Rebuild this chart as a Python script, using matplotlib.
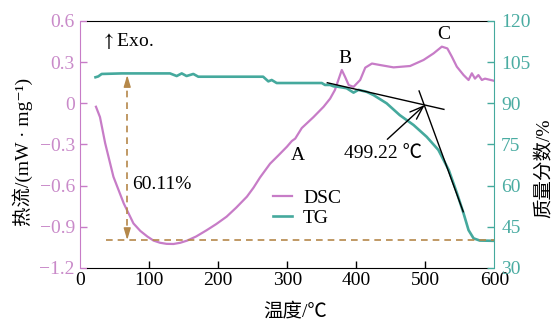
import numpy as np
import matplotlib
matplotlib.use("Agg")
import matplotlib.pyplot as plt

plt.rcParams["font.family"] = ["Liberation Serif", "Noto Sans CJK SC", "DejaVu Serif"]
plt.rcParams["mathtext.fontset"] = "stix"
plt.rcParams["font.size"] = 14

# DSC heat flow (mW/mg) vs temperature
dsc_t = [22.7, 28.5, 36, 48, 63, 77, 87, 97, 106, 115.5, 125, 135, 145, 155, 168,
         183, 197, 212, 226, 241.5, 251, 260.5, 275, 287, 299.5, 306.5, 311.5, 321,
         338, 352.6, 362, 369, 374, 379, 384, 389, 396, 405.6, 413, 422.7, 434.6,
         454, 478, 497.5, 512, 524, 532, 538.5, 545.7, 555.5, 562.7, 567.5, 572,
         577, 582, 586.5, 599]
dsc_v = [-0.025, -0.10, -0.29, -0.535, -0.73, -0.875, -0.93, -0.97, -1.0, -1.016,
         -1.024, -1.025, -1.016, -1.0, -0.97, -0.925, -0.88, -0.826, -0.76, -0.68,
         -0.615, -0.54, -0.44, -0.38, -0.316, -0.275, -0.257, -0.18, -0.10, -0.025,
         0.034, 0.097, 0.17, 0.243, 0.19, 0.133, 0.12, 0.17, 0.26, 0.29, 0.279,
         0.262, 0.272, 0.316, 0.364, 0.413, 0.40, 0.34, 0.267, 0.206, 0.17, 0.219,
         0.18, 0.206, 0.17, 0.18, 0.165]

# TG mass fraction (%) vs temperature
tg_t = [22, 26, 31, 60, 130, 139.7, 147, 154, 163.8, 171, 220, 265, 272.5, 277.4,
        284.6, 300, 350, 354.6, 362, 367, 372, 386, 396, 403, 415, 425, 444, 463,
        483, 502, 519, 534, 546, 555.5, 562.7, 570, 579, 600]
tg_v = [99.5, 99.8, 100.7, 100.9, 100.9, 99.95, 100.9, 99.95, 100.7, 99.7, 99.7,
        99.7, 98.0, 98.5, 97.4, 97.4, 97.4, 96.7, 96.7, 96.2, 96.1, 95.5, 93.9,
        94.9, 94.2, 93.0, 90.0, 85.7, 82.1, 77.8, 73.0, 65.7, 57.2, 49.9, 43.8,
        40.8, 40.0, 39.9]

# onset tangents
tan1_t = [358, 527]
tan1_v = [97.5, 87.8]
tan2_t = [491, 555]
tan2_v = [94.5, 50.5]
onset_t = 499.22
onset_v = 89.4

# total mass loss
loss_t = 68
loss_top = 100.3
mass_loss = 60.11

dsc_ticks = [-1.2, -0.9, -0.6, -0.3, 0, 0.3, 0.6]
dsc_labels = ["\u22121.2", "\u22120.9", "\u22120.6", "\u22120.3", "0", "0.3", "0.6"]
tg_ticks = [30, 45, 60, 75, 90, 105, 120]
t_ticks = [0, 100, 200, 300, 400, 500, 600]

pink = "#c77cc7"
pink_txt = "#c98ac9"
teal = "#45a99d"
teal_txt = "#4aaca2"
brown = "#b5884a"

fig = plt.figure(figsize=(5.55, 3.2), dpi=100)
ax1 = fig.add_axes([0.1447, 0.1625, 0.7459, 0.7719])
ax2 = ax1.twinx()

l1, = ax1.plot(dsc_t, dsc_v, color=pink, lw=1.6, label="DSC")
l2, = ax2.plot(tg_t, tg_v, color=teal, lw=1.9, label="TG")

ax2.plot(tan1_t, tan1_v, color="black", lw=1)
ax2.plot(tan2_t, tan2_v, color="black", lw=1)
ax2.annotate("", xy=(onset_t, onset_v), xytext=(445, 76.9),
             arrowprops=dict(arrowstyle="->, head_length=0.7, head_width=0.25",
                             color="black", lw=1, shrinkA=0, shrinkB=0))
ax2.text(439.4, 71.7, "499.22 \u2103", ha="center", va="center", fontsize=14)

# dashed mass-loss marker
loss_bot = loss_top - mass_loss
ax2.plot([loss_t, loss_t], [loss_top - 1.5, loss_bot + 1.5], color=brown, lw=1.2,
         ls=(0, (4, 3)))
ax2.plot([37, 600], [loss_bot, loss_bot], color=brown, lw=1.2, ls=(0, (4, 3)))
for a, b in [(loss_top - 2.5, loss_top), (loss_bot + 2.5, loss_bot)]:
    ax2.annotate("", xy=(loss_t, b), xytext=(loss_t, a),
                 arrowprops=dict(arrowstyle="-|>, head_length=0.5, head_width=0.15",
                                 color=brown, lw=1, shrinkA=0, shrinkB=0))
ax1.text(74.5, -0.592, "60.11%", ha="left", va="center", fontsize=14)

ax1.text(30, 0.454, "$\\uparrow$Exo.", ha="left", va="center", fontsize=14)
ax1.text(316, -0.377, "A", ha="center", va="center", fontsize=14)
ax1.text(384, 0.33, "B", ha="center", va="center", fontsize=14)
ax1.text(527, 0.50, "C", ha="center", va="center", fontsize=14)

ax1.set_xlim(0, 600)
ax1.set_ylim(-1.2, 0.6)
ax2.set_ylim(30, 120)
ax1.set_xticks(t_ticks)
ax1.set_yticks(dsc_ticks)
ax1.set_yticklabels(dsc_labels)
ax2.set_yticks(tg_ticks)

ax1.tick_params(axis="x", direction="in", length=5, width=1, pad=3, colors="black")
ax1.tick_params(axis="y", direction="in", length=5, width=1, pad=4,
                color=pink, labelcolor=pink_txt)
ax2.tick_params(axis="y", direction="in", length=5, width=1, pad=5,
                color=teal, labelcolor=teal_txt)
for i in (0, -1):
    ax1.xaxis.get_major_ticks()[i].tick1line.set_visible(False)

for s in ("left", "top", "bottom"):
    ax2.spines[s].set_visible(False)
ax1.spines["right"].set_visible(False)
ax1.spines["left"].set_color(pink)
ax2.spines["right"].set_color(teal)
ax1.spines["top"].set_bounds(9, 591)
ax1.spines["bottom"].set_bounds(9, 591)

ax1.set_xlabel("温度/\u2103")
ax1.set_ylabel("热流/(mW · mg\u207b\u00b9)")
ax2.set_ylabel("质量分数/%")
ax1.xaxis.set_label_coords(0.518, -0.14)
ax1.yaxis.set_label_coords(-0.115, 0.47)
ax2.yaxis.set_label_coords(1.1, 0.405)

ax1.legend([l1, l2], ["DSC", "TG"], loc="center left", bbox_to_anchor=(0.4655, 0.243),
           frameon=False, handlelength=1.0, handletextpad=0.55, labelspacing=0.1,
           borderpad=0, borderaxespad=0, fontsize=14)

fig.savefig("out.png", dpi=100)
